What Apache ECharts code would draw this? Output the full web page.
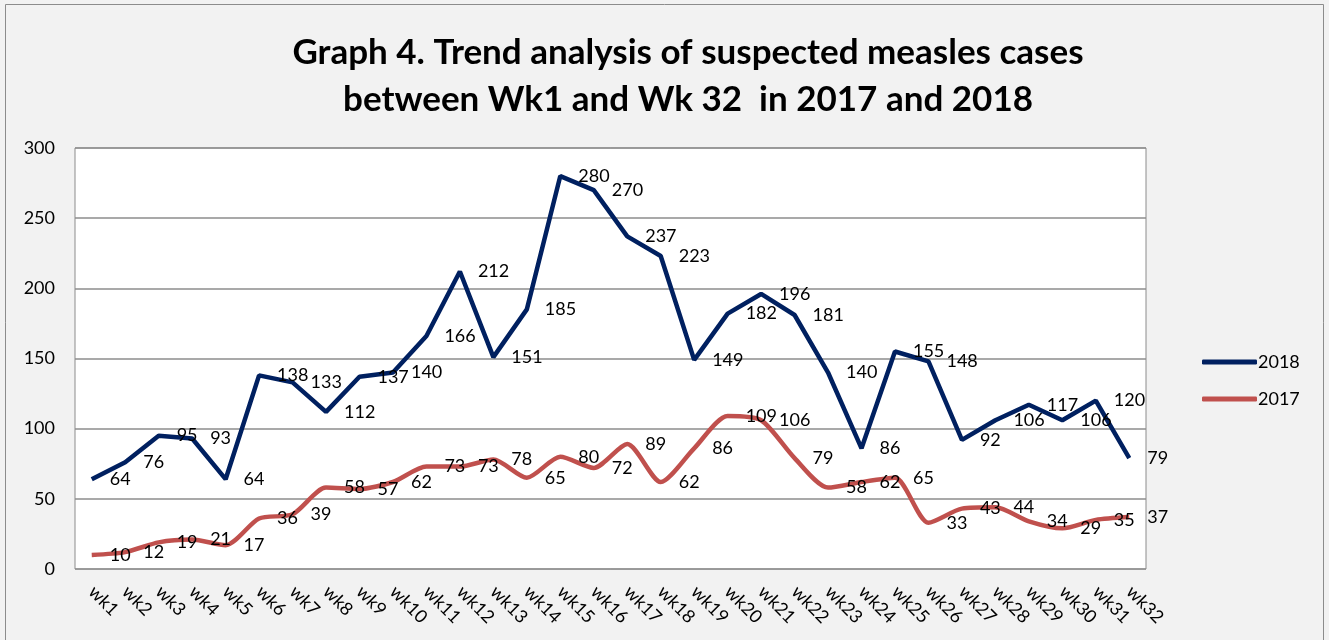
<!DOCTYPE html>
<html>
<head>
<meta charset="utf-8">
<script src="https://cdn.jsdelivr.net/npm/echarts@6/dist/echarts.min.js"></script>
<style>
  html, body { margin: 0; padding: 0; background: #f2f2f2; }
  #chart { width: 1329px; height: 640px; }
</style>
</head>
<body>
<div id="chart"></div>
<script>
  // weeks on the x axis
  var weeks = [];
  for (var w = 1; w <= 32; w++) weeks.push('wk' + w);

  var cases2018 = [64, 76, 95, 93, 64, 138, 133, 112, 137, 140, 166, 212, 151, 185, 280, 270,
    237, 223, 149, 182, 196, 181, 140, 86, 155, 148, 92, 106, 117, 106, 120, 79];
  var cases2017 = [10, 12, 19, 21, 17, 36, 39, 58, 57, 62, 73, 73, 78, 65, 80, 72,
    89, 62, 86, 109, 106, 79, 58, 62, 65, 33, 43, 44, 34, 29, 35, 37];

  var FONT = 'Lato, "Open Sans", sans-serif';
  var chart = echarts.init(document.getElementById('chart'));

  var labelCfg = {
    show: true,
    position: 'right',
    distance: 18,
    color: '#000',
    fontSize: 18,
    fontFamily: FONT
  };

  chart.setOption({
    backgroundColor: '#f2f2f2',
    animation: false,
    title: {
      text: 'Graph 4. Trend analysis of suspected measles cases\nbetween Wk1 and Wk 32  in 2017 and 2018',
      left: 683,
      top: 24,
      textAlign: 'center',
      textStyle: {
        fontFamily: FONT,
        fontWeight: 'bold',
        fontSize: 35,
        lineHeight: 47,
        color: '#000'
      }
    },
    graphic: [{
      type: 'rect',
      shape: { x: 5.5, y: 4.5, width: 1318, height: 660 },
      style: { fill: null, stroke: '#8c8c8c', lineWidth: 1 },
      silent: true
    }],
    legend: {
      orient: 'vertical',
      left: 1197,
      top: 348,
      itemGap: 19,
      itemWidth: 55,
      itemHeight: 5,
      icon: 'roundRect',
      data: ['2018', '2017'],
      textStyle: { fontFamily: FONT, fontSize: 18, color: '#000', padding: [0, 0, 0, -4] }
    },
    grid: {
      left: 75,
      right: 183,
      top: 148,
      bottom: 71,
      show: true,
      backgroundColor: '#fff',
      borderColor: '#8c8c8c',
      borderWidth: 1
    },
    xAxis: {
      type: 'category',
      data: weeks,
      boundaryGap: true,
      axisLine: { show: false },
      axisTick: { show: false },
      axisLabel: {
        interval: 0,
        rotate: -45,
        margin: 20,
        fontFamily: FONT,
        fontSize: 18,
        color: '#000'
      }
    },
    yAxis: {
      type: 'value',
      min: 0,
      max: 300,
      interval: 50,
      axisLine: { show: false },
      axisTick: { show: false },
      splitLine: { lineStyle: { color: '#8c8c8c', width: 1.5 } },
      axisLabel: { margin: 20, fontFamily: FONT, fontSize: 18, color: '#000' }
    },
    series: [{
      name: '2018',
      type: 'line',
      data: cases2018,
      symbol: 'circle',
      symbolSize: 0,
      showSymbol: true,
      color: '#002060',
      lineStyle: { width: 4.5, color: '#002060' },
      label: labelCfg
    }, {
      name: '2017',
      type: 'line',
      data: cases2017,
      symbol: 'circle',
      symbolSize: 0,
      showSymbol: true,
      smooth: 0.25,
      color: '#c0504d',
      lineStyle: { width: 4.5, color: '#c0504d' },
      label: labelCfg
    }]
  });
</script>
</body>
</html>
